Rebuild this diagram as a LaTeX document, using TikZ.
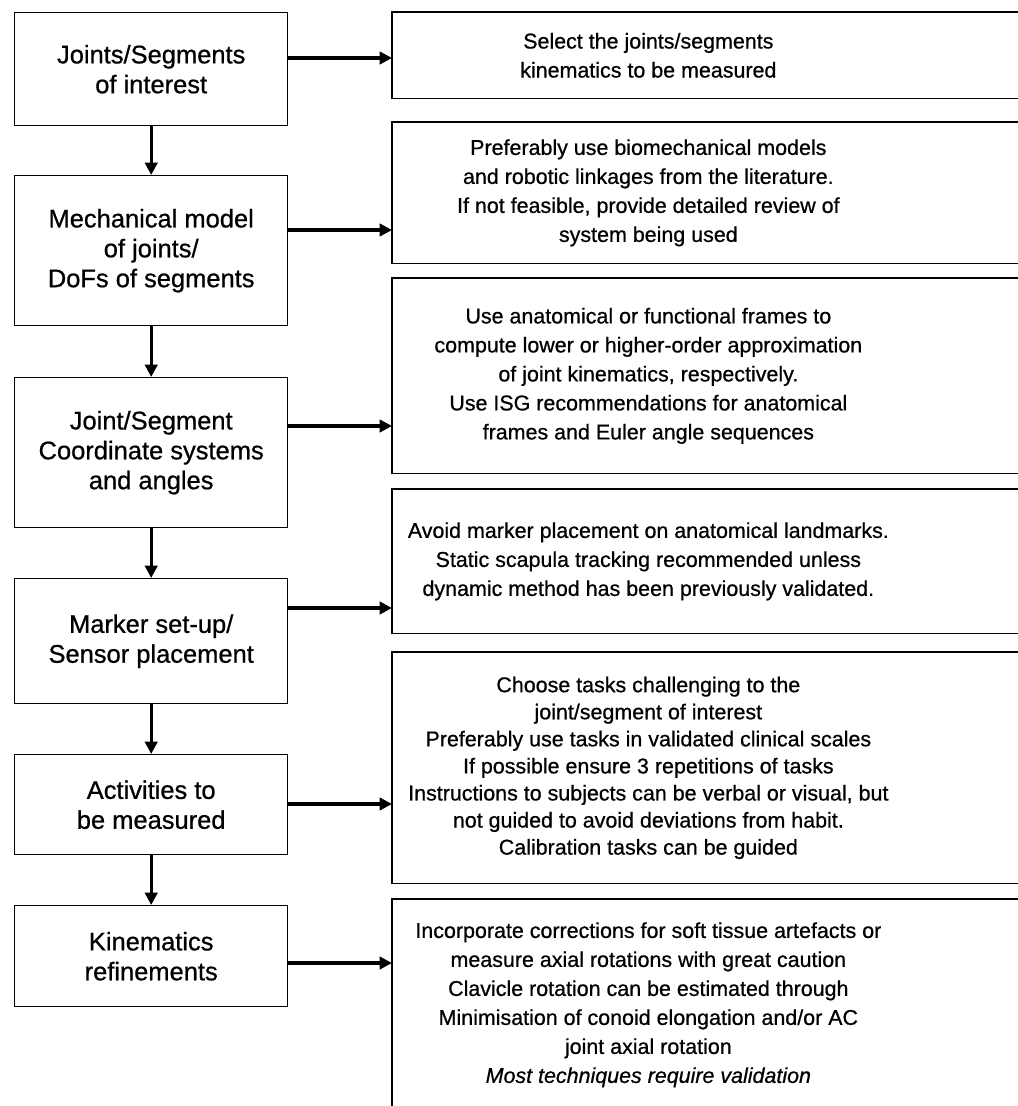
\documentclass[tikz,border=0pt]{standalone}
\usepackage{fontspec}
\setmainfont{Liberation Sans}[UprightFeatures={FakeBold=0.7},ItalicFeatures={FakeBold=0.7}]
\usetikzlibrary{arrows.meta}

\begin{document}
\begin{tikzpicture}[
  stage/.style={draw,line width=0.8pt,anchor=north west,minimum width=5.46cm,align=center,inner sep=2pt,
    font=\fontsize{14.5}{17}\selectfont},
  note/.style={anchor=north west,minimum width=10.24cm,align=center,inner sep=2pt,
    font=\fontsize{12.2}{16.5}\selectfont},
  flow/.style={line width=1.8pt,line cap=round,-{Triangle[length=7pt,width=7pt]}},
  side/.style={line width=0.8pt}]
\useasboundingbox (0,0) rectangle (20.36,-22.12);
%\draw[help lines] (0,0) grid (20,-22);

% left column
\node[stage,minimum height=2.26cm] (L1) at (0.28,-0.24) {Joints/Segments\\of interest};
\node[stage,minimum height=3.0cm] (L2) at (0.28,-3.5) {Mechanical model\\of joints/\\DoFs of segments};
\node[stage,minimum height=3.0cm] (L3) at (0.28,-7.54) {Joint/Segment\\Coordinate systems\\and angles};
\node[stage,minimum height=2.5cm] (L4) at (0.28,-11.56) {Marker set-up/\\Sensor placement};
\node[stage,minimum height=2.0cm] (L5) at (0.28,-15.08) {Activities to\\be measured};
\node[stage,minimum height=2.02cm] (L6) at (0.28,-18.1) {Kinematics\\refinements};

\draw[flow] (L1) -- (L2);
\draw[flow] (L2) -- (L3);
\draw[flow] (L3) -- (L4);
\draw[flow] (L4) -- (L5);
\draw[flow] (L5) -- (L6);

% right column
\node[note,minimum height=1.72cm] (R1) at (7.84,-0.24) {Select the joints/segments\\kinematics to be measured};
\node[note,minimum height=2.82cm] (R2) at (7.84,-2.44) {Preferably use biomechanical models\\and robotic linkages from the literature.\\If not feasible, provide detailed review of\\system being used};
\node[note,minimum height=3.9cm] (R3) at (7.84,-5.56) {Use anatomical or functional frames to\\compute lower or higher-order approximation\\of joint kinematics, respectively.\\Use ISG recommendations for anatomical\\frames and Euler angle sequences};
\node[note,minimum height=2.88cm] (R4) at (7.84,-9.78) {Avoid marker placement on anatomical landmarks.\\Static scapula tracking recommended unless\\dynamic method has been previously validated.};
\node[note,minimum height=4.62cm,font=\fontsize{12.2}{15.4}\selectfont] (R5) at (7.84,-13.04) {Choose tasks challenging to the\\joint/segment of interest\\Preferably use tasks in validated clinical scales\\If possible ensure 3 repetitions of tasks\\Instructions to subjects can be verbal or visual, but\\not guided to avoid deviations from habit.\\Calibration tasks can be guided};
\node[note,minimum height=4.22cm] (R6) at (7.84,-17.98) {Incorporate corrections for soft tissue artefacts or\\measure axial rotations with great caution\\Clavicle rotation can be estimated through\\Minimisation of conoid elongation and/or AC\\joint axial rotation\\\textit{Most techniques require validation}};

\draw[side] ([xshift=4cm]R1.north east) -| (R1.south west) -- ([xshift=4cm]R1.south east);
\draw[side] ([xshift=4cm]R2.north east) -| (R2.south west) -- ([xshift=4cm]R2.south east);
\draw[side] ([xshift=4cm]R3.north east) -| (R3.south west) -- ([xshift=4cm]R3.south east);
\draw[side] ([xshift=4cm]R4.north east) -| (R4.south west) -- ([xshift=4cm]R4.south east);
\draw[side] ([xshift=4cm]R5.north east) -| (R5.south west) -- ([xshift=4cm]R5.south east);
\draw[side] ([xshift=4cm]R6.north east) -| (R6.south west) -- ([xshift=4cm]R6.south east);

% heights of the side arrows
\coordinate (a1) at (0,-1.16);
\coordinate (a2) at (0,-4.6);
\coordinate (a3) at (0,-8.52);
\coordinate (a4) at (0,-12.16);
\coordinate (a5) at (0,-16.08);
\coordinate (a6) at (0,-19.26);

\draw[flow] (L1.east |- a1) -- (R1.west |- a1);
\draw[flow] (L2.east |- a2) -- (R2.west |- a2);
\draw[flow] (L3.east |- a3) -- (R3.west |- a3);
\draw[flow] (L4.east |- a4) -- (R4.west |- a4);
\draw[flow] (L5.east |- a5) -- (R5.west |- a5);
\draw[flow] (L6.east |- a6) -- (R6.west |- a6);
\end{tikzpicture}
\end{document}
